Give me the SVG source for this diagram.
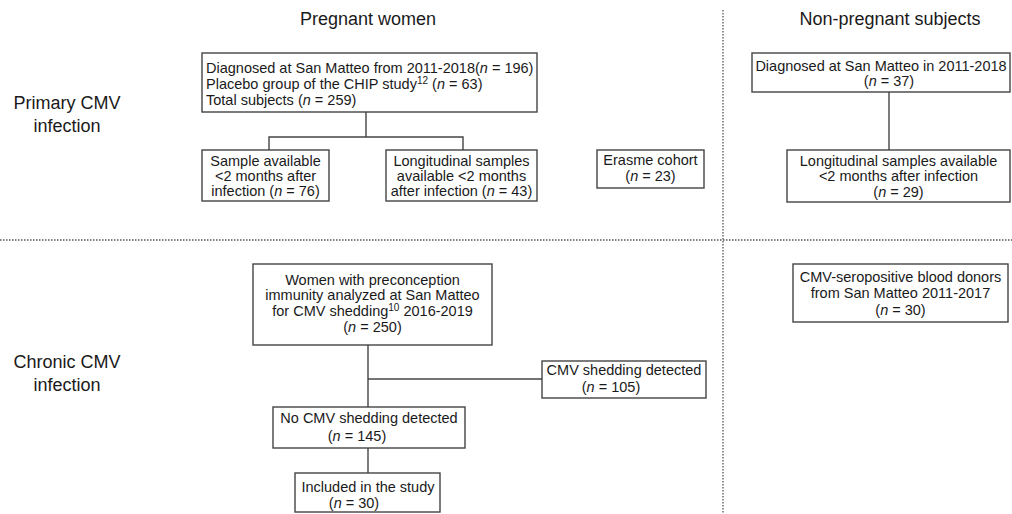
<svg xmlns="http://www.w3.org/2000/svg" width="1012" height="514" viewBox="0 0 1012 514">
<style>
text{font-family:"Liberation Sans",Arial,sans-serif;fill:#1a1a1a}
.h{font-size:18px;text-anchor:middle}
.t{font-size:14.5px}
.c{text-anchor:middle}
.box{fill:#fff;stroke:#444;stroke-width:1.4}
.ln{fill:none;stroke:#444;stroke-width:1.4}
.dot{fill:none;stroke:#555;stroke-width:1.3;stroke-dasharray:1.5 1.5}
.i{font-style:italic}
.sup{font-size:10px}
</style>
<g id="dividers">
<line class="dot" x1="0" y1="240" x2="1012" y2="240"/>
<line class="dot" x1="723" y1="10" x2="723" y2="514"/>
</g>
<g id="headers">
<text class="h" x="368" y="25">Pregnant women</text>
<text class="h" x="890" y="25">Non-pregnant subjects</text>
<text class="h" x="67" y="109">Primary CMV</text>
<text class="h" x="67" y="132">infection</text>
<text class="h" x="67" y="368">Chronic CMV</text>
<text class="h" x="67" y="391">infection</text>
</g>
<g id="connectors">
<polyline class="ln" points="366,112 366,137"/>
<polyline class="ln" points="269,150 269,137 463,137 463,150"/>
<polyline class="ln" points="889,92 889,150"/>
<polyline class="ln" points="368,345 368,407"/>
<polyline class="ln" points="368,379 542,379"/>
<polyline class="ln" points="368,448 368,473"/>
</g>
<g id="n-pw-total">
<rect class="box" x="202" y="53" width="335" height="59"/>
<text class="t" x="206" y="73">Diagnosed at San Matteo from 2011-2018(<tspan class="i">n</tspan> = 196)</text>
<text class="t" x="206" y="89">Placebo group of the CHIP study<tspan class="sup" dy="-5">12</tspan><tspan dy="5"> (</tspan><tspan class="i">n</tspan> = 63)</text>
<text class="t" x="206" y="105">Total subjects  (<tspan class="i">n</tspan> = 259)</text>
</g>
<g id="n-pw-sample">
<rect class="box" x="202" y="150" width="127" height="51"/>
<text class="t c" x="265.5" y="166">Sample available</text>
<text class="t c" x="265.5" y="181">&lt;2 months after</text>
<text class="t c" x="265.5" y="196">infection (<tspan class="i">n</tspan> = 76)</text>
</g>
<g id="n-pw-long">
<rect class="box" x="386" y="150" width="151" height="51"/>
<text class="t c" x="461.5" y="166">Longitudinal samples</text>
<text class="t c" x="461.5" y="181">available &lt;2 months</text>
<text class="t c" x="461.5" y="196">after infection (<tspan class="i">n</tspan> = 43)</text>
</g>
<g id="n-erasme">
<rect class="box" x="597" y="150" width="107" height="38"/>
<text class="t c" x="650.5" y="165">Erasme cohort</text>
<text class="t c" x="650.5" y="181">(<tspan class="i">n</tspan> = 23)</text>
</g>
<g id="n-np-diag">
<rect class="box" x="752" y="53" width="258" height="39"/>
<text class="t c" x="881" y="71">Diagnosed at San Matteo in 2011-2018</text>
<text class="t c" x="889" y="86">(<tspan class="i">n</tspan> = 37)</text>
</g>
<g id="n-np-long">
<rect class="box" x="787" y="150" width="223" height="52"/>
<text class="t c" x="898.5" y="166">Longitudinal samples available</text>
<text class="t c" x="898.5" y="181">&lt;2 months after infection</text>
<text class="t c" x="898.5" y="197">(<tspan class="i">n</tspan> = 29)</text>
</g>
<g id="n-chronic">
<rect class="box" x="253" y="264" width="239" height="81"/>
<text class="t c" x="372.5" y="285">Women with preconception</text>
<text class="t c" x="372.5" y="300">immunity analyzed at San Matteo</text>
<text class="t c" x="372.5" y="316">for CMV shedding<tspan class="sup" dy="-5">10</tspan><tspan dy="5"> 2016-2019</tspan></text>
<text class="t c" x="372.5" y="332">(<tspan class="i">n</tspan> = 250)</text>
</g>
<g id="n-shed">
<rect class="box" x="542" y="361" width="164" height="37"/>
<text class="t c" x="624" y="375">CMV shedding detected</text>
<text class="t c" x="611" y="392">(<tspan class="i">n</tspan> = 105)</text>
</g>
<g id="n-noshed">
<rect class="box" x="273" y="407" width="192" height="41"/>
<text class="t c" x="369" y="423">No CMV shedding detected</text>
<text class="t c" x="357" y="441">(<tspan class="i">n</tspan> = 145)</text>
</g>
<g id="n-included">
<rect class="box" x="295" y="473" width="145" height="39"/>
<text class="t c" x="368" y="492">Included in the study</text>
<text class="t c" x="354" y="508">(<tspan class="i">n</tspan> = 30)</text>
</g>
<g id="n-donors">
<rect class="box" x="793" y="264" width="215" height="58"/>
<text class="t c" x="900.5" y="282">CMV-seropositive blood donors</text>
<text class="t c" x="900.5" y="298">from San Matteo 2011-2017</text>
<text class="t c" x="900.5" y="315">(<tspan class="i">n</tspan> = 30)</text>
</g>
</svg>
